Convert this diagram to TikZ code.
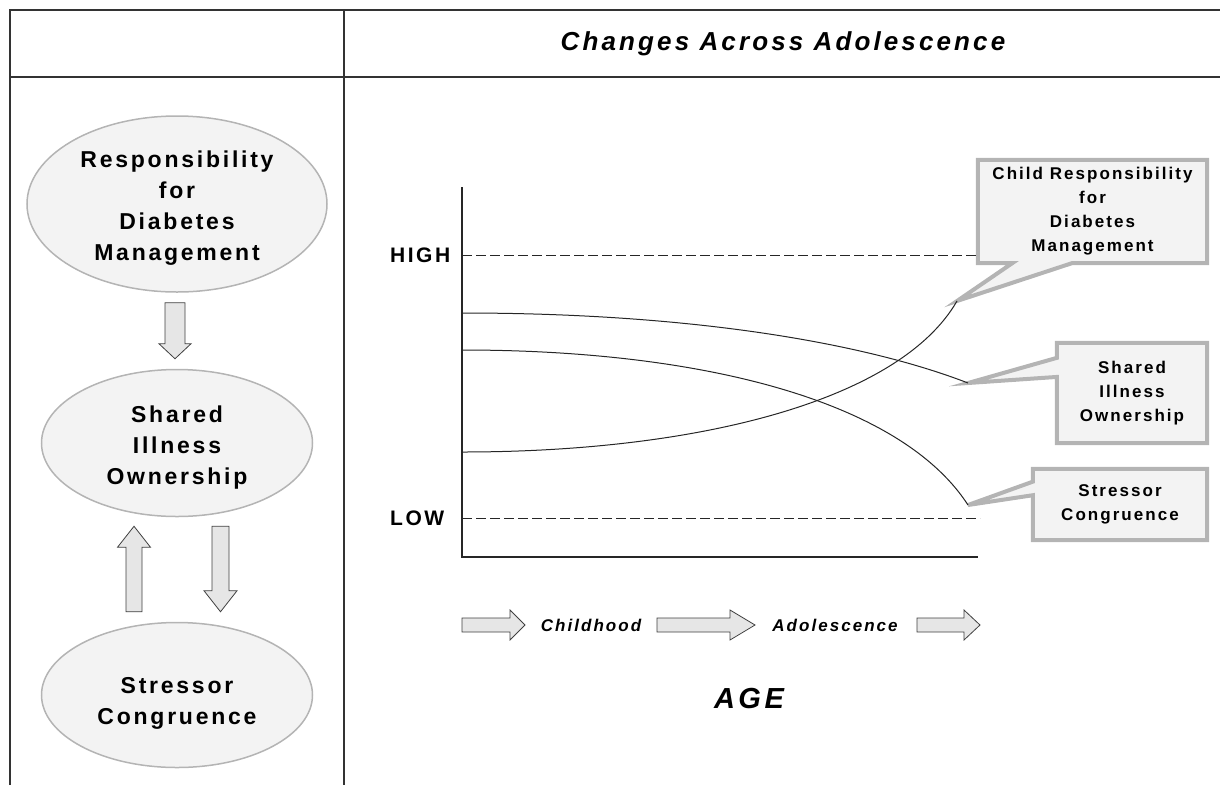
\documentclass[tikz,border=0pt]{standalone}
\usepackage{fontspec}
\setmainfont{Liberation Sans}
\newfontfamily\labfont[LetterSpace=12]{Liberation Sans}
\usetikzlibrary{shapes.geometric,calc,backgrounds}

\definecolor{ovalfill}{HTML}{F3F3F3}
\definecolor{ovalline}{HTML}{B4B4B4}
\definecolor{arrowfill}{HTML}{E6E6E6}
\definecolor{frameline}{HTML}{333333}

\tikzset{
  frame/.style={draw=frameline, line width=1.5pt},
  oval/.style={ellipse, draw=ovalline, line width=1.5pt, fill=ovalfill, inner sep=0pt,
    align=center, font=\labfont\bfseries\fontsize{23}{31}\selectfont},
  callbox/.style={inner sep=0pt, align=center, font=\labfont\bfseries\fontsize{17}{24}\selectfont},
  callout/.style={draw=ovalline, line width=4pt, fill=ovalfill, line join=miter},
  blockarrow/.style={draw=black!75, line width=0.8pt, fill=arrowfill},
  axis/.style={draw=black!85, line width=1.3pt},
  level/.style={draw=black!85, line width=0.8pt, dash pattern=on 10pt off 4pt},
  curve/.style={draw=black!85, line width=1pt},
  levellabel/.style={anchor=west, inner sep=0pt, font=\labfont\bfseries\fontsize{21}{25}\selectfont},
  agetext/.style={inner sep=0pt, font=\labfont\bfseries\itshape\fontsize{17}{20}\selectfont},
  titletext/.style={inner sep=0pt, font=\labfont\bfseries\itshape\fontsize{26}{30}\selectfont}
}

% tail, tip, shaft half width, head half width, head length
\newcommand\blockarrow[5]{%
  \coordinate (ba-tail) at (#1);
  \coordinate (ba-tip) at (#2);
  \coordinate (ba-base) at ($(ba-tip)!#5!(ba-tail)$);
  \draw[blockarrow] ($(ba-tail)!#3!90:(ba-tip)$) -- ($(ba-base)!#3!90:(ba-tip)$)
    -- ($(ba-base)!#4!90:(ba-tip)$) -- (ba-tip) -- ($(ba-base)!#4!-90:(ba-tip)$)
    -- ($(ba-base)!#3!-90:(ba-tip)$) -- ($(ba-tail)!#3!-90:(ba-tip)$) -- cycle;}
% taller first line, pushes the text a bit down in its oval
\newcommand\lift[1]{\rule{0pt}{#1}}

\begin{document}
\begin{tikzpicture}[x=1pt, y=-1pt]
\useasboundingbox (0,0) rectangle (1220,785);

% table lines
\draw[frame] (10,785) -- (10,10) -- (1220,10);
\draw[frame] (10,77) -- (1220,77);
\draw[frame] (344,10) -- (344,785);
\node[titletext] (title) at (783,44) {Changes Across Adolescence};

% left panel
\node[oval, minimum width=300pt, minimum height=176pt] (resp) at (177,204)
  {\lift{25pt}Responsibility\\for\\Diabetes\\Management};
\node[oval, minimum width=271pt, minimum height=147pt] (shared) at (177,443)
  {\lift{26pt}Shared\\Illness\\Ownership};
\node[oval, minimum width=271pt, minimum height=145pt] (stress) at (177,695)
  {\lift{32pt}Stressor\\Congruence};

\blockarrow{$(resp.south)+(-2,10)$}{$(shared.north)+(-2,-10)$}{10pt}{16pt}{15pt}
\blockarrow{$(stress.north)+(-43,-10)$}{$(shared.south)+(-43,9)$}{8pt}{16.5pt}{21pt}
\blockarrow{$(shared.south)+(43.5,9)$}{$(stress.north)+(43.5,-10)$}{8.5pt}{16.5pt}{21pt}

% graph
\coordinate (origin) at (462,557);
\draw[axis] (462,187) -- (origin) -- (978,557);
\draw[level] (462,255) -- (977,255);
\draw[level] (462,518) -- (980,518);
\node[levellabel] (high) at (390,255) {HIGH};
\node[levellabel] (low) at (390,518) {LOW};

\coordinate (shStart) at (462,313);
\coordinate (shEnd) at (968,383);
\coordinate (stStart) at (462,350);
\coordinate (stEnd) at (968,505);
\coordinate (chStart) at (462,452);
\coordinate (chEnd) at (957,301);
\draw[curve] (shStart) .. controls (700,313) and (870,345) .. (shEnd);
\draw[curve] (stStart) .. controls (700,350) and (900,400) .. (stEnd);
\draw[curve] (chStart) .. controls (700,452) and (900,400) .. (chEnd);

% callouts
\node[callbox, minimum width=229pt, minimum height=103pt] (coChild) at (1092.5,211.5)
  {Child Responsibility\\for\\Diabetes\\Management};
\node[callbox, minimum width=150pt, minimum height=100pt] (coShared) at (1132,393)
  {Shared\\Illness\\Ownership};
\node[callbox, minimum width=174pt, minimum height=71pt] (coStress) at (1120,504.5)
  {Stressor\\Congruence};
\begin{scope}[on background layer]
\draw[callout] (coChild.north west) -- (coChild.north east) -- (coChild.south east)
  -- ($(coChild.south west)!0.41!(coChild.south east)$) -- (chEnd)
  -- ($(coChild.south west)!0.15!(coChild.south east)$) -- (coChild.south west) -- cycle;
\draw[callout] (coShared.north west) -- (coShared.north east) -- (coShared.south east)
  -- (coShared.south west) -- ($(coShared.south west)!0.66!(coShared.north west)$)
  -- (shEnd) -- ($(coShared.south west)!0.85!(coShared.north west)$) -- cycle;
\draw[callout] (coStress.north west) -- (coStress.north east) -- (coStress.south east)
  -- (coStress.south west) -- ($(coStress.south west)!0.63!(coStress.north west)$)
  -- (stEnd) -- ($(coStress.south west)!0.82!(coStress.north west)$) -- cycle;
\end{scope}

% age axis
\node[agetext] (childhood) at (591,625) {Childhood};
\node[agetext] (adol) at (835,625) {Adolescence};
\blockarrow{462,625}{525,625}{7pt}{15pt}{15pt}
\blockarrow{657,625}{755,625}{7pt}{15pt}{25pt}
\blockarrow{917,625}{980,625}{7pt}{15pt}{16pt}
\node[inner sep=0pt, font=\labfont\bfseries\itshape\fontsize{29}{32}\selectfont] (age) at (749,698) {AGE};
\end{tikzpicture}
\end{document}
